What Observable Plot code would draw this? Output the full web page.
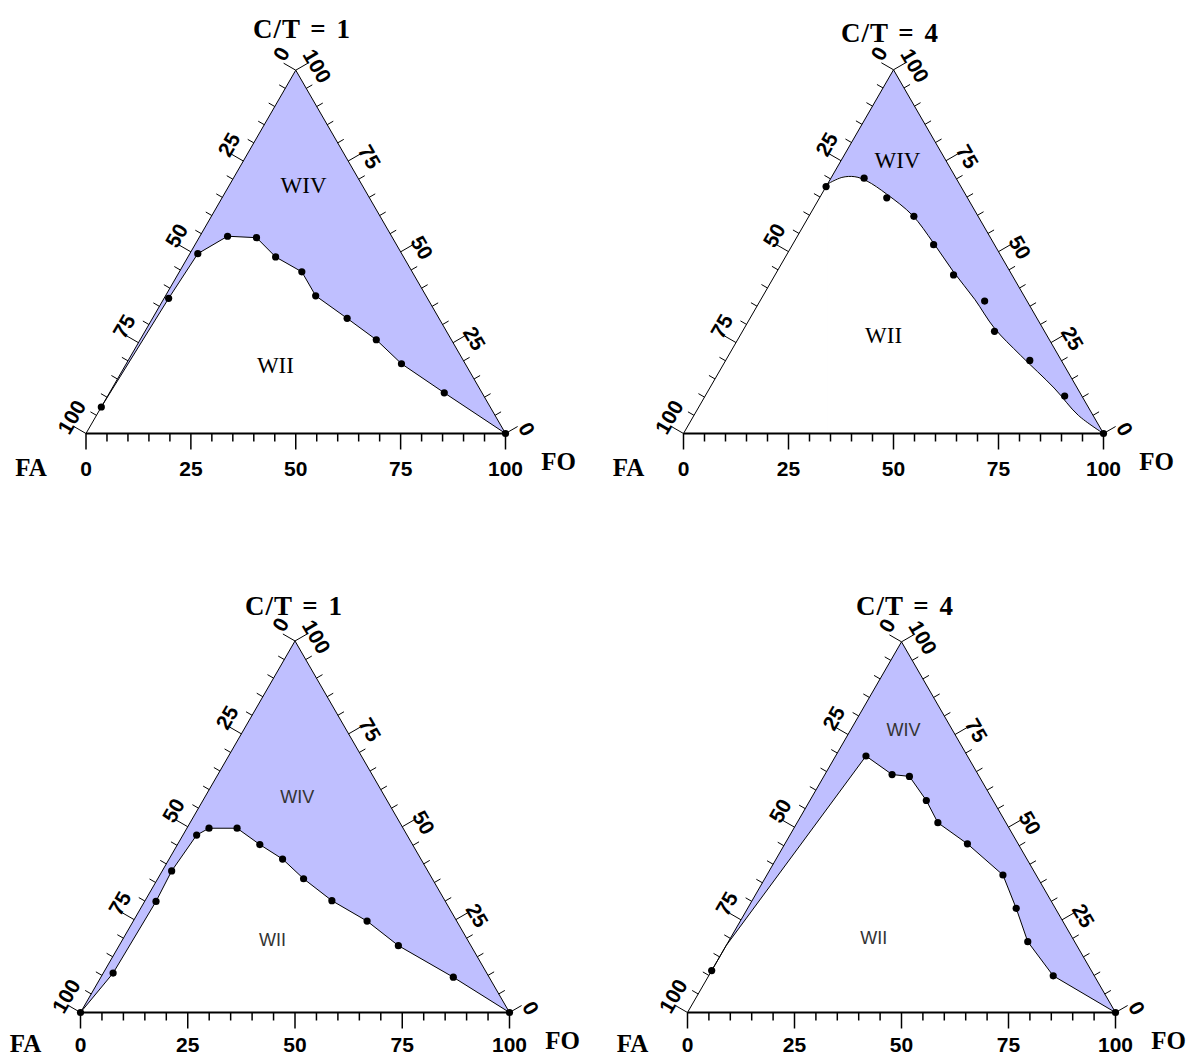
<!DOCTYPE html>
<html><head><meta charset="utf-8">
<script src="https://cdn.jsdelivr.net/npm/d3@7"></script>
<script src="https://cdn.jsdelivr.net/npm/@observablehq/plot@0.6"></script>
<style>
body{margin:0;background:#fff;}
#root{position:relative;width:1189px;height:1059px;overflow:hidden;background:#fff;}
.panel{position:absolute;}
.title{position:absolute;font-family:"Liberation Serif",serif;font-weight:bold;font-size:27px;letter-spacing:1px;word-spacing:2px;white-space:pre;transform:translate(-50%,-50%);line-height:1;}
</style></head><body><div id="root"></div>
<script>
// ---------------- DATA ----------------
const titles = ["C/T = 1", "C/T = 4", "C/T = 1", "C/T = 4"];
const majorTicks = [0, 25, 50, 75, 100];
const minorTicks = [0, 5, 10, 15, 20, 25, 30, 35, 40, 45, 50, 55, 60, 65, 70, 75, 80, 85, 90, 95, 100];
const cornerLeft = "FA";
const cornerRight = "FO";
const regionLabels = ["WIV", "WII"];

// Each point: apex component % (right-edge scale) and FO % (bottom scale)
// Panel 1 (top-left, C/T = 1)
const p1A  = [7.3, 37.2, 49.5, 54.3, 53.9, 48.6, 44.5, 37.9, 31.7, 25.8, 19.2, 11.2, 0];
const p1FO = [0,   1.1,  1.9,  6.6,  13.7, 20.9, 29.2, 35.8, 46.4, 56.3, 65.6, 79.8, 100];
// Panel 2 (top-right, C/T = 4) measured points
const p2A  = [67.9, 70.2, 64.8, 59.7, 51.9, 43.6, 36.4, 28.1, 20.1, 10.3, 0];
const p2FO = [0,    7.9,  16.0, 25.0, 33.6, 42.5, 53.5, 60.0, 72.4, 85.6, 100];
// Panel 2 fitted boundary
const c2A  = [68.6, 70.4, 70.6, 69.4, 65.8, 60.0, 52.5, 44.5, 36.8, 29.0, 21.5, 12.5, 5.0, 0];
const c2FO = [0,    2.5,  5.5,  9.0,  15.5, 24.5, 33.2, 42.0, 51.0, 59.5, 69.5, 82.0, 91.5, 100];
// Panel 3 (bottom-left, C/T = 1)
const p3A  = [0, 10.6, 29.9, 38.1, 47.75, 49.6, 49.6, 45.2, 41.3, 36.0, 30.1, 24.6, 18.0, 9.5, 0];
const p3FO = [0, 2.3,  2.65, 2.2,  3.2,   5.15, 11.7, 19.2, 26.45, 34.0, 43.55, 54.5, 65.1, 82.15, 100];
// Panel 4 (bottom-right, C/T = 4)
const p4A  = [11.3, 69.2, 64.2, 63.7, 57.2, 51.2, 45.5,  37.1,  28.1,  19.1,  9.9,  0];
const p4FO = [0,    7.1,  15.7, 20.0, 27.2, 32.9, 42.65, 55.15, 62.75, 69.95, 80.5, 100];
// Panel 4 boundary (includes the bend where it leaves the FA–apex edge)
const c4A  = [11.3, 18.0, 69.2, 64.2, 63.7, 57.2, 51.2, 45.5,  37.1,  28.1,  19.1,  9.9,  0];
const c4FO = [0,    0,    7.1,  15.7, 20.0, 27.2, 32.9, 42.65, 55.15, 62.75, 69.95, 80.5, 100];

// region label positions (apex %, FO %) for [WIV, WII]
const lab1 = [[68.3, 17.7], [18.7, 35.8]];
const lab2 = [[75.1, 13.4], [26.9, 34.2]];
const lab3 = [[57.9, 21.6], [19.4, 35.05]];
const lab4 = [[76.1, 12.4], [20.0, 33.5]];

// ---------------- LAYOUT / STYLE ----------------
const layout = [
  {left: 0,   top: 36,  w: 595, h: 490, fa: 85.5, fo: 505,  base: 433,  tx: 302, ty: 29, serif: true,  curve: "linear",      faDy: 34, foDy: 28, tickDy: 36},
  {left: 595, top: 36,  w: 594, h: 490, fa: 683,  fo: 1103, base: 433,  tx: 890, ty: 33, serif: true,  curve: "catmull-rom", faDy: 34, foDy: 28, tickDy: 36},
  {left: 0,   top: 612, w: 595, h: 447, fa: 80,   fo: 509,  base: 1012, tx: 294, ty: 606, serif: false, curve: "linear",     faDy: 31, foDy: 28, tickDy: 33},
  {left: 595, top: 612, w: 594, h: 447, fa: 687,  fo: 1115, base: 1012, tx: 905, ty: 606, serif: false, curve: "linear",     faDy: 31, foDy: 28, tickDy: 33}
];
const FILL = "#bfbfff";
const S = Math.sqrt(3) / 2;
const tern = (A, FO) => ({x: FO + A / 2, y: A * S});
const zip = (A, F) => A.map((a, i) => tern(a, F[i]));

const panels = [
  {pts: zip(p1A, p1FO), curve: zip(p1A, p1FO), labels: lab1},
  {pts: zip(p2A, p2FO), curve: zip(c2A, c2FO), labels: lab2},
  {pts: zip(p3A, p3FO), curve: zip(p3A, p3FO), labels: lab3},
  {pts: zip(p4A, p4FO), curve: zip(c4A, c4FO), labels: lab4}
];

function drawPanel(cfg, pd) {
  const k = (cfg.fo - cfg.fa) / 100;       // px per unit
  const u = px => px / k;                   // px -> data units
  const x0 = cfg.fa - cfg.left, y0 = cfg.base - cfg.top;
  const FA = tern(0, 0), FO = tern(0, 100), AP = tern(100, 0);
  const tickLen = t => (t % 25 === 0 ? 14 : 7);
  const nL = [-S, 0.5], nR = [S, 0.5];      // outward normals (data space, y up)
  const eUp = [0.5, S], eDown = [0.5, -S];  // along-edge directions for labels

  const leftTicks = minorTicks.map(t => {
    const p = tern(t, 0), L = u(tickLen(t));
    return {x1: p.x, y1: p.y, x2: p.x + nL[0] * L, y2: p.y + nL[1] * L};
  });
  const rightTicks = minorTicks.map(t => {
    const p = tern(t, 100 - t), L = u(tickLen(t));
    return {x1: p.x, y1: p.y, x2: p.x + nR[0] * L, y2: p.y + nR[1] * L};
  });
  const N = 20, E = 7;
  const leftLabels = majorTicks.map(t => {
    const p = tern(t, 0);
    return {x: p.x + nL[0] * u(N) + eUp[0] * u(E), y: p.y + nL[1] * u(N) + eUp[1] * u(E), text: String(100 - t)};
  });
  const rightLabels = majorTicks.map(t => {
    const p = tern(t, 100 - t);
    return {x: p.x + nR[0] * u(N) + eDown[0] * u(E), y: p.y + nR[1] * u(N) + eDown[1] * u(E), text: String(t)};
  });
  const tickFont = {fontFamily: "Liberation Sans, Arial, sans-serif", fontWeight: "bold", fontSize: 21, fill: "black"};
  const regFont = cfg.serif
    ? {fontFamily: "Liberation Serif, serif", fontSize: 23, fill: "black"}
    : {fontFamily: "Liberation Sans, Arial, sans-serif", fontSize: 18, fill: "#333"};
  const regData = pd.labels.map((l, i) => ({...tern(l[0], l[1]), text: regionLabels[i]}));

  // shaded region between the boundary curve and the two upper edges
  let regionMarks;
  if (cfg.curve === "linear") {
    regionMarks = [Plot.line([...pd.curve, AP], {x: "x", y: "y", fill: FILL, stroke: "none"})];
  } else {
    const start = pd.curve[0];
    regionMarks = [
      Plot.line([FA, AP, FO], {x: "x", y: "y", fill: FILL, stroke: "none"}),
      Plot.line([FA, start, {x: start.x, y: 0}], {x: "x", y: "y", fill: "white", stroke: "none"}),
      Plot.areaY(pd.curve, {x: "x", y1: () => 0, y2: "y", fill: "white", curve: cfg.curve})
    ];
  }

  return Plot.plot({
    width: cfg.w, height: cfg.h, margin: 0,
    x: {domain: [0, 100], range: [x0, x0 + 100 * k], axis: null},
    y: {domain: [0, 100], range: [y0, y0 - 100 * k], axis: null},
    marks: [
      ...regionMarks,
      Plot.line([FA, AP, FO], {x: "x", y: "y", stroke: "black", strokeWidth: 1}),
      Plot.link([{x1: 0, x2: 100}], {x1: "x1", x2: "x2", y1: () => 0, y2: () => 0, stroke: "black", strokeWidth: 2}),
      Plot.link(minorTicks, {x1: d => d, x2: d => d, y1: () => 0, y2: d => -u(d % 25 === 0 ? 16 : 8), stroke: "black", strokeWidth: 1.5}),
      Plot.link(leftTicks, {x1: "x1", y1: "y1", x2: "x2", y2: "y2", stroke: "black", strokeWidth: 1}),
      Plot.link(rightTicks, {x1: "x1", y1: "y1", x2: "x2", y2: "y2", stroke: "black", strokeWidth: 1}),
      Plot.text(majorTicks, {x: d => d, y: () => 0, text: d => String(d), dy: cfg.tickDy, ...tickFont}),
      Plot.text(leftLabels, {x: "x", y: "y", text: "text", rotate: -60, ...tickFont}),
      Plot.text(rightLabels, {x: "x", y: "y", text: "text", rotate: 60, ...tickFont}),
      Plot.line(pd.curve, {x: "x", y: "y", stroke: "black", strokeWidth: 1, curve: cfg.curve}),
      Plot.dot(pd.pts, {x: "x", y: "y", r: 3.6, fill: "black", stroke: "none"}),
      Plot.text(regData, {x: "x", y: "y", text: "text", ...regFont}),
      Plot.text([FA], {x: "x", y: "y", text: () => cornerLeft, dx: -55, dy: cfg.faDy, fontFamily: "Liberation Serif, serif", fontWeight: "bold", fontSize: 25, letterSpacing: 3}),
      Plot.text([FO], {x: "x", y: "y", text: () => cornerRight, dx: 53, dy: cfg.foDy, fontFamily: "Liberation Serif, serif", fontWeight: "bold", fontSize: 25, letterSpacing: 3})
    ]
  });
}

const root = document.getElementById("root");
layout.forEach((cfg, i) => {
  const svg = drawPanel(cfg, panels[i]);
  const box = document.createElement("div");
  box.className = "panel";
  box.style.left = cfg.left + "px";
  box.style.top = cfg.top + "px";
  box.appendChild(svg);
  root.appendChild(box);
  const t = document.createElement("div");
  t.className = "title";
  t.textContent = titles[i];
  t.style.left = cfg.tx + "px";
  t.style.top = cfg.ty + "px";
  root.appendChild(t);
});
</script></body></html>
